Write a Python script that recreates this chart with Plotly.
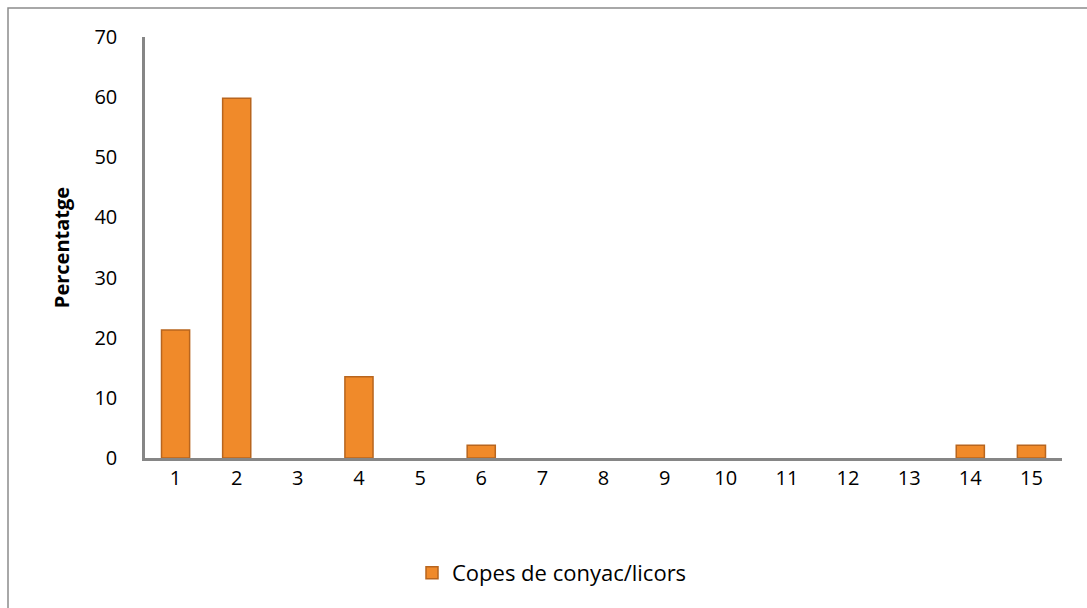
import plotly.graph_objects as go

categories = [str(i) for i in range(1, 16)]
values = [21.3, 59.8, 0, 13.5, 0, 2.1, 0, 0, 0, 0, 0, 0, 0, 2.1, 2.1]
series_name = "Copes de conyac/licors"
y_ticks = [0, 10, 20, 30, 40, 50, 60, 70]

W, H = 1087, 608
L, R, T, B = 145, 25, 37, 150
pw, ph = W - L - R, H - T - B

line_colors = ["#B8651E" if v > 0 else "rgba(0,0,0,0)" for v in values]

fig = go.Figure()
fig.add_trace(go.Bar(
    x=categories, y=values, name=series_name,
    width=0.46,
    marker=dict(color="#F08A2A", line=dict(color=line_colors, width=1.5)),
    showlegend=True,
))

def px_x(p):
    return (p - L) / pw

def px_y(p):
    return (H - B - p) / ph

fig.add_shape(type="rect", xref="paper", yref="paper",
              x0=px_x(8), x1=px_x(1095), y0=px_y(620), y1=px_y(8),
              line=dict(color="#8C8C8C", width=1.5), fillcolor="rgba(0,0,0,0)", layer="below")

FONT = "Open Sans, Liberation Sans, sans-serif"
fig.update_layout(
    width=W, height=H,
    margin=dict(l=L, r=R, t=T, b=B, pad=0),
    plot_bgcolor="white", paper_bgcolor="white",
    font=dict(family=FONT, size=20, color="#000000"),
    xaxis=dict(type="category", showgrid=False, showline=True, linecolor="#868686", linewidth=2.5,
               ticks="", tickfont=dict(size=20), ticklabelstandoff=0),
    yaxis=dict(range=[0, 70], tickvals=y_ticks, showgrid=False, showline=True, linecolor="#868686",
               linewidth=2.5, ticks="", zeroline=False, tickfont=dict(size=20), ticklabelstandoff=21,
               title=dict(text="<b>Percentatge</b>", font=dict(size=20), standoff=20)),
    legend=dict(orientation="h", x=px_x(552), xanchor="center", y=px_y(573), yanchor="middle",
                font=dict(size=22), bgcolor="rgba(0,0,0,0)"),
)

fig.write_html("out.html", config={"displayModeBar": False},
               post_script="document.body.style.margin='0';")
